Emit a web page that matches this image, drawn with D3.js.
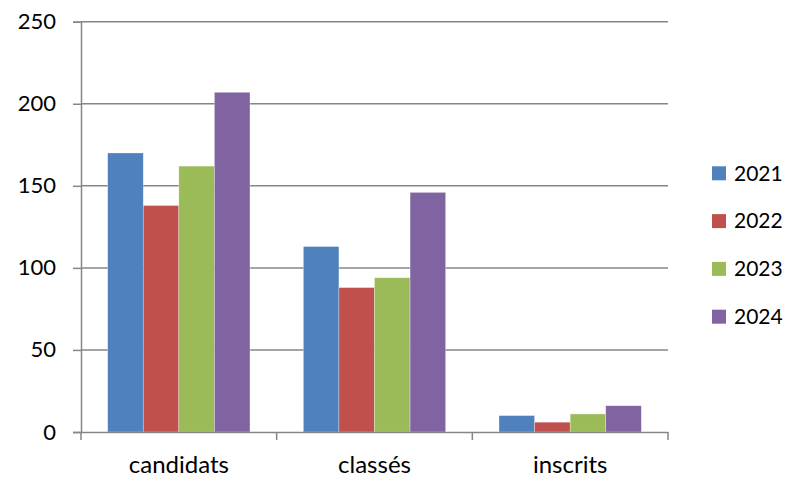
<!DOCTYPE html>
<html>
<head>
<meta charset="utf-8">
<script src="https://cdn.jsdelivr.net/npm/d3@7"></script>
<style>
  body { margin: 0; background: #fff; }
  text { font-family: Lato, "Open Sans", sans-serif; fill: #000; }
</style>
</head>
<body>
<div class="canvas"></div>
<script>
// chart values
const categories = ['candidats', 'classés', 'inscrits'];
const years = ['2021', '2022', '2023', '2024'];
const values2021 = [170, 113, 10];
const values2022 = [138, 88, 6];
const values2023 = [162, 94, 11];
const values2024 = [207, 146, 16];
const yTicks = [0, 50, 100, 150, 200, 250];
const colors = ['#4F81BD', '#C0504D', '#9BBB59', '#8064A2'];

const series = [values2021, values2022, values2023, values2024];

const svg = d3.select('.canvas')
    .append('svg')
    .attr('width', 789)
    .attr('height', 477);

// plot area
const plotLeft = 81, plotRight = 668, plotTop = 21.7, plotBottom = 432;

const x = d3.scaleBand()
    .domain(categories)
    .range([plotLeft, plotRight]);

// inner scale for years in each category (excel-ish 150% gap)
const xInner = d3.scaleBand()
    .domain(years)
    .range([0, x.bandwidth()])
    .paddingOuter(0.75)
    .paddingInner(0);

const y = d3.scaleLinear()
    .domain([0, 250])
    .range([plotBottom, plotTop]);

// gridlines
svg.append('g')
    .selectAll('line')
    .data(yTicks.filter(d => d > 0))
    .enter()
    .append('line')
    .attr('x1', plotLeft)
    .attr('x2', plotRight)
    .attr('y1', d => y(d))
    .attr('y2', d => y(d))
    .attr('stroke', '#868686')
    .attr('stroke-width', 1.5);

// bars
const groups = svg.append('g')
    .selectAll('g')
    .data(categories)
    .enter()
    .append('g')
    .attr('transform', d => `translate(${x(d)},0)`);

groups.selectAll('rect')
    .data((c, i) => years.map((yr, j) => ({ yr, v: series[j][i], j })))
    .enter()
    .append('rect')
    .attr('x', d => xInner(d.yr))
    .attr('width', xInner.bandwidth())
    .attr('y', d => y(d.v))
    .attr('height', d => plotBottom - y(d.v))
    .attr('fill', d => colors[d.j])
    .attr('stroke', '#fff')
    .attr('stroke-opacity', 0.5)
    .attr('stroke-width', 0.6);

// y axis
const yAxis = svg.append('g')
    .attr('transform', `translate(${plotLeft},0)`)
    .call(d3.axisLeft(y).tickValues(yTicks).tickSize(8).tickPadding(17));
yAxis.select('.domain').attr('stroke', '#868686').attr('stroke-width', 1.5);
yAxis.selectAll('line').attr('stroke', '#868686').attr('stroke-width', 1.5);
yAxis.selectAll('text').style('font-size', '22px');

// x axis
const xAxis = svg.append('g')
    .attr('transform', `translate(0,${plotBottom})`)
    .call(d3.axisBottom(x).tickSize(0).tickPadding(24));
xAxis.select('.domain').attr('stroke', '#868686').attr('stroke-width', 1.5);
xAxis.selectAll('text').style('font-size', '24px');

// category separator ticks
xAxis.append('g')
    .selectAll('line')
    .data([plotLeft, ...categories.map(c => x(c) + x.bandwidth())])
    .enter()
    .append('line')
    .attr('x1', d => d)
    .attr('x2', d => d)
    .attr('y1', 0)
    .attr('y2', 8)
    .attr('stroke', '#868686')
    .attr('stroke-width', 1.5);

// legend
const legend = svg.append('g')
    .selectAll('g')
    .data(years)
    .enter()
    .append('g')
    .attr('transform', (d, i) => `translate(712,${173.3 + i * 47.8})`);

legend.append('rect')
    .attr('x', 0)
    .attr('y', -7)
    .attr('width', 14)
    .attr('height', 14)
    .attr('fill', (d, i) => colors[i]);

legend.append('text')
    .attr('x', 22)
    .attr('dy', '0.35em')
    .style('font-size', '21px')
    .text(d => d);
</script>
</body>
</html>
